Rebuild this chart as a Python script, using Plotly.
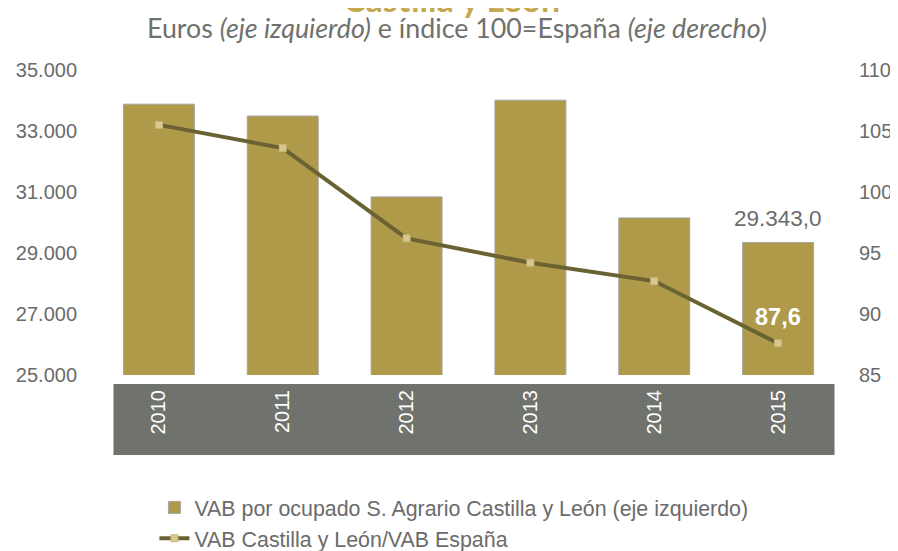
import plotly.graph_objects as go

years = ["2010", "2011", "2012", "2013", "2014", "2015"]
vab_ocupado = [33880, 33490, 30840, 34010, 30150, 29343.0]
indice = [105.5, 103.6, 96.2, 94.2, 92.7, 87.6]

bar_name = "VAB por ocupado S. Agrario Castilla y León (eje izquierdo)"
line_name = "VAB Castilla y León/VAB España"

# page body has an 8px margin: figure sits at (8, 8) in the window
O = 8
W, H = 890, 543
L, R, T, B = 88.5, 57.5, 62, 176
pw, ph = W - L - R, H - T - B

def px(sx):
    return (sx - O - L) / pw

def py(sy):
    return (H - B - (sy - O)) / ph

FONT = "Liberation Sans, Arial"
GREY = "#6B6B6B"

fig = go.Figure()
fig.add_trace(go.Bar(
    x=years, y=vab_ocupado, name=bar_name,
    marker=dict(color="#AF9A4A", line=dict(color="#A4A4A4", width=1)),
    yaxis="y",
))
fig.add_trace(go.Scatter(
    x=years, y=indice, name=line_name, mode="lines+markers",
    line=dict(color="#6A6232", width=4),
    marker=dict(symbol="square", size=7, color="#D8C88E",
                line=dict(color="#C9B677", width=1)),
    yaxis="y2",
))

last = len(years) - 1
fig.add_annotation(x=last, y=vab_ocupado[last], xref="x", yref="y",
                   text=f"{vab_ocupado[last]:,.1f}".replace(",", "X").replace(".", ",").replace("X", "."),
                   showarrow=False, yshift=24, xanchor="center", yanchor="middle",
                   font=dict(family=FONT, size=22.5, color=GREY))
fig.add_annotation(x=last, y=indice[last], xref="x", yref="y2",
                   text="<b>" + f"{indice[last]:.1f}".replace(".", ",") + "</b>",
                   showarrow=False, yshift=26, xanchor="center", yanchor="middle",
                   font=dict(family=FONT, size=23.5, color="#FFFFFF"))

fig.add_annotation(x=px(451), y=py(-2), xref="paper", yref="paper",
                   text="<b>Castilla y León</b>", showarrow=False,
                   xanchor="center", yanchor="middle",
                   font=dict(family="Lato", size=34, color="#C5A84E"))
fig.add_annotation(x=px(457), y=py(28), xref="paper", yref="paper",
                   text="Euros <i>(eje izquierdo)</i> e índice 100=España <i>(eje derecho)</i>",
                   showarrow=False, xanchor="center", yanchor="middle",
                   font=dict(family="Lato", size=26.8, color="#6E716C"))

fig.add_shape(type="rect", xref="paper", yref="paper",
              x0=px(113), x1=px(835), y0=py(384), y1=py(455),
              fillcolor="#6F726D", line=dict(width=0), layer="below")

fig.update_layout(
    width=W, height=H,
    margin=dict(l=L, r=R, t=T, b=B, pad=0, autoexpand=False),
    paper_bgcolor="white", plot_bgcolor="rgba(0,0,0,0)",
    separators=",.",
    bargap=0.427,
    showlegend=True,
    legend=dict(x=px(154), y=py(487), xanchor="left", yanchor="top",
                orientation="v", traceorder="normal", tracegroupgap=0,
                font=dict(family=FONT, size=21.4, color=GREY),
                itemwidth=30, bgcolor="rgba(0,0,0,0)"),
    xaxis=dict(type="category", range=[-0.5, len(years) - 0.5], tickangle=-90,
               showgrid=False, showline=False, ticks="", ticklabelstandoff=10,
               automargin=False,
               tickfont=dict(family=FONT, size=20, color="#FFFFFF")),
    yaxis=dict(range=[25000, 35000], tick0=25000, dtick=2000, tickformat=",d",
               showgrid=False, zeroline=False, showline=False, ticks="",
               ticklabelstandoff=19, automargin=False,
               tickfont=dict(family=FONT, size=20, color=GREY)),
    yaxis2=dict(range=[85, 110], tick0=85, dtick=5, overlaying="y", side="right",
                showgrid=False, zeroline=False, showline=False, ticks="",
                ticklabelstandoff=18, automargin=False,
                tickfont=dict(family=FONT, size=20, color=GREY)),
)

fig.write_html("out.html")
